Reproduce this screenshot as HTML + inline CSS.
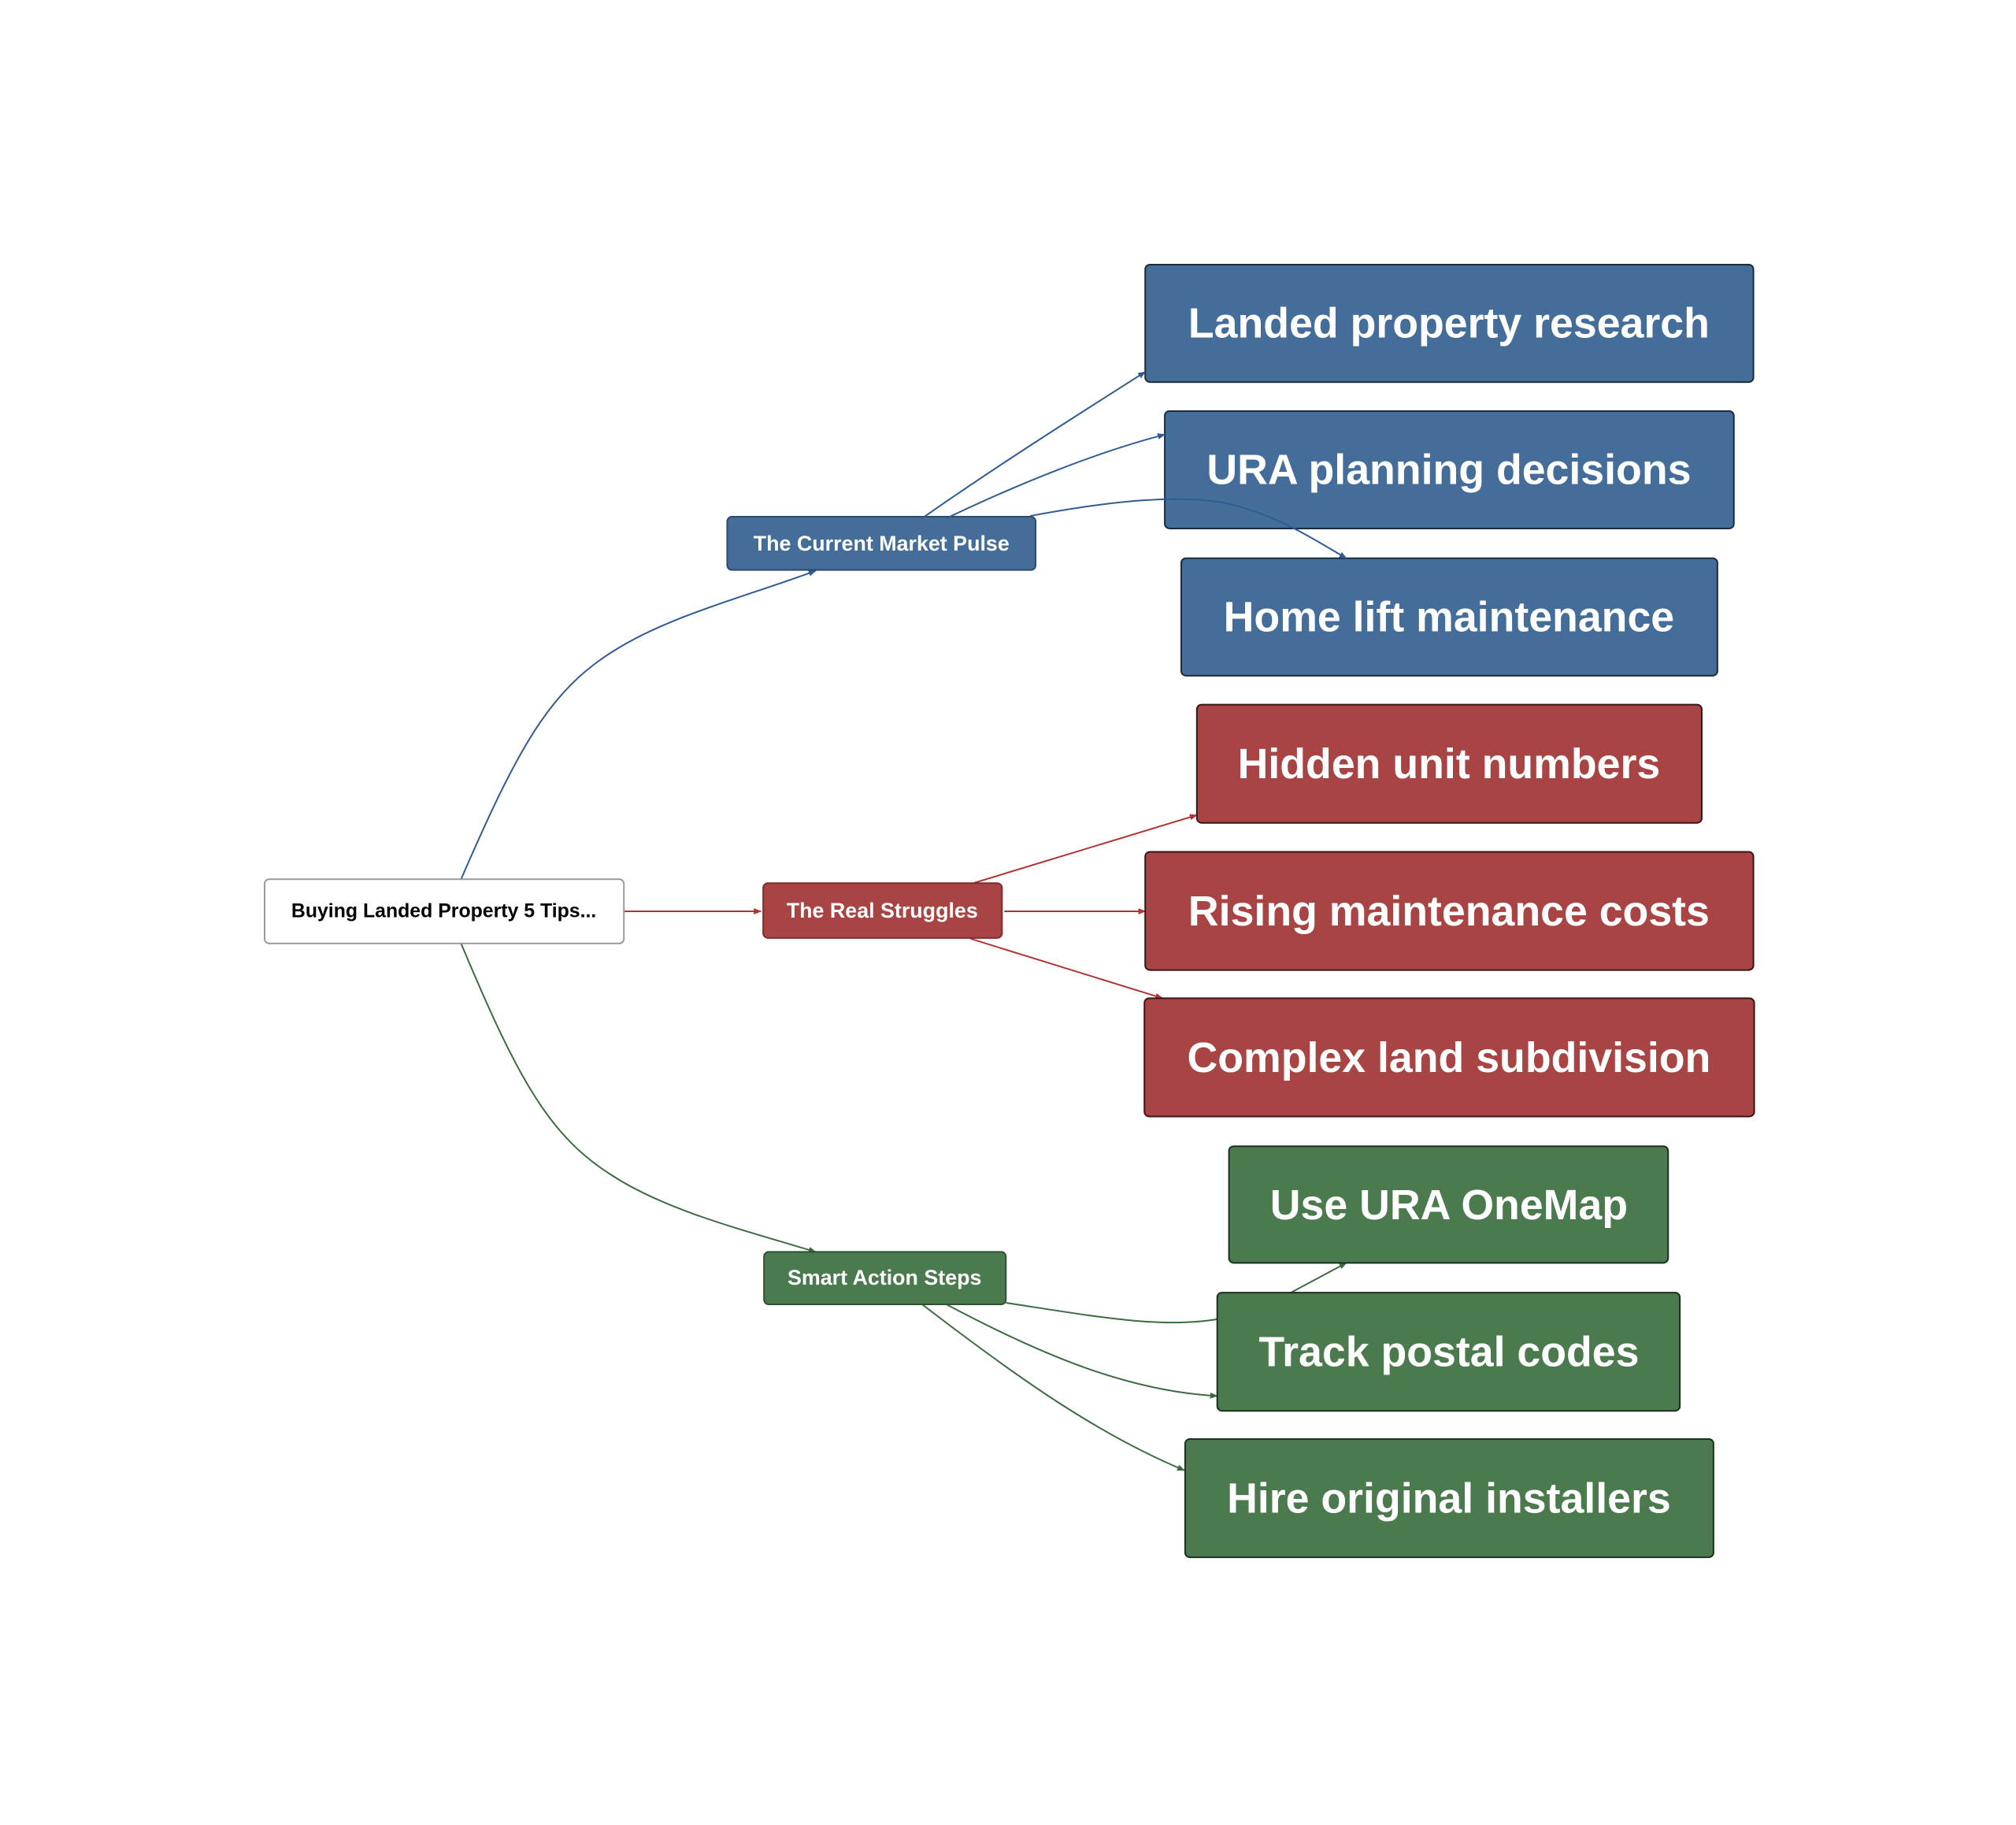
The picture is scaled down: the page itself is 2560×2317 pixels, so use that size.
<!DOCTYPE html>
<html><head><meta charset="utf-8"><style>
html,body{margin:0;padding:0;background:#fff;}
svg text{font-family:"Liberation Sans",Arial,sans-serif;font-weight:bold;}
</style></head><body>
<svg width="2560" height="2312" viewBox="0 0 2560 2312" xmlns="http://www.w3.org/2000/svg">
<defs>
<marker id="ab" markerWidth="10" markerHeight="8" refX="9" refY="4" orient="auto" markerUnits="userSpaceOnUse"><path d="M0,0 L10,4 L0,8 z" fill="#2f5a94"/></marker>
<marker id="ar" markerWidth="10" markerHeight="8" refX="9" refY="4" orient="auto" markerUnits="userSpaceOnUse"><path d="M0,0 L10,4 L0,8 z" fill="#b03434"/></marker>
<marker id="ag" markerWidth="10" markerHeight="8" refX="9" refY="4" orient="auto" markerUnits="userSpaceOnUse"><path d="M0,0 L10,4 L0,8 z" fill="#3d6b40"/></marker>
</defs>
<g transform="translate(3,2) scale(0.994)">
<g fill="none" stroke-width="2">
<path d="M586,1121 C660,950 700,880 780,830 C850,785 950,760 1039,727" stroke="#2f5a94" marker-end="url(#ab)"/>
<path d="M586,1203 C660,1380 700,1450 780,1500 C850,1545 950,1570 1039,1597" stroke="#3d6b40" marker-end="url(#ag)"/>
<path d="M794,1162 L969,1162" stroke="#b03434" marker-end="url(#ar)"/>
<path d="M1237,1127 L1526,1039" stroke="#b03434" marker-end="url(#ar)"/>
<path d="M1280,1162 L1460,1162" stroke="#b03434" marker-end="url(#ar)"/>
<path d="M1237,1197 L1482,1273" stroke="#b03434" marker-end="url(#ar)"/>
<path d="M1175,1664 C1300,1760 1400,1830 1510,1876" stroke="#3d6b40" marker-end="url(#ag)"/>
<path d="M1206,1664 C1330,1730 1440,1775 1552,1781" stroke="#3d6b40" marker-end="url(#ag)"/>
<path d="M1282,1662 C1400,1680 1480,1695 1552,1683" stroke="#3d6b40"/>
<path d="M1646,1649 L1717,1611" stroke="#3d6b40" marker-end="url(#ag)"/>
</g>
<g stroke-width="2">
<rect x="335" y="1121" width="459" height="82" rx="6" fill="#fff" stroke="#999"/>
<rect x="926" y="658" width="394" height="68" rx="6" fill="#446e99" stroke="#2c4a6a"/>
<rect x="972" y="1126" width="305" height="70" rx="6" fill="#a84444" stroke="#7a2e2e"/>
<rect x="973" y="1597" width="309" height="67" rx="6" fill="#4a7a4d" stroke="#2f5231"/>
<rect x="1460" y="336" width="777" height="150" rx="6" fill="#446e99" stroke="#1b2b3d"/>
<rect x="1485" y="523" width="727" height="150" rx="6" fill="#446e99" stroke="#1b2b3d"/>
<rect x="1506" y="711" width="685" height="150" rx="6" fill="#446e99" stroke="#1b2b3d"/>
<rect x="1526" y="898" width="645" height="151" rx="6" fill="#a84444" stroke="#3a1515"/>
<rect x="1460" y="1086" width="777" height="151" rx="6" fill="#a84444" stroke="#3a1515"/>
<rect x="1459" y="1273" width="779" height="151" rx="6" fill="#a84444" stroke="#3a1515"/>
<rect x="1567" y="1462" width="561" height="149" rx="6" fill="#4a7a4d" stroke="#1c301d"/>
<rect x="1552" y="1649" width="591" height="151" rx="6" fill="#4a7a4d" stroke="#1c301d"/>
<rect x="1511" y="1836" width="675" height="151" rx="6" fill="#4a7a4d" stroke="#1c301d"/>
</g>
<g fill="none" stroke-width="2">
<path d="M1175,660 C1260,600 1370,530 1460,473" stroke="#2f5a94" marker-end="url(#ab)"/>
<path d="M1206,660 C1300,615 1400,575 1485,553" stroke="#2f5a94" marker-end="url(#ab)"/>
<path d="M1313,657 C1420,637 1500,630 1560,640 C1630,655 1680,690 1717,711" stroke="#2f5a94" marker-end="url(#ab)"/>
</g>
<g text-anchor="middle" dominant-baseline="central">
<text x="564" y="1162" font-size="25" fill="#000">Buying Landed Property 5 Tips...</text>
<text x="1123" y="692" font-size="27" fill="#fff">The Current Market Pulse</text>
<text x="1124" y="1161" font-size="27" fill="#fff">The Real Struggles</text>
<text x="1127" y="1630" font-size="27" fill="#fff">Smart Action Steps</text>
<g font-size="54" fill="#fff">
<text x="1848" y="411">Landed property research</text>
<text x="1848" y="598">URA planning decisions</text>
<text x="1848" y="786">Home lift maintenance</text>
<text x="1848" y="974">Hidden unit numbers</text>
<text x="1848" y="1162">Rising maintenance costs</text>
<text x="1848" y="1349">Complex land subdivision</text>
<text x="1848" y="1537">Use URA OneMap</text>
<text x="1848" y="1725">Track postal codes</text>
<text x="1848" y="1912">Hire original installers</text>
</g>
</g>
</g>
</svg>
</body></html>
